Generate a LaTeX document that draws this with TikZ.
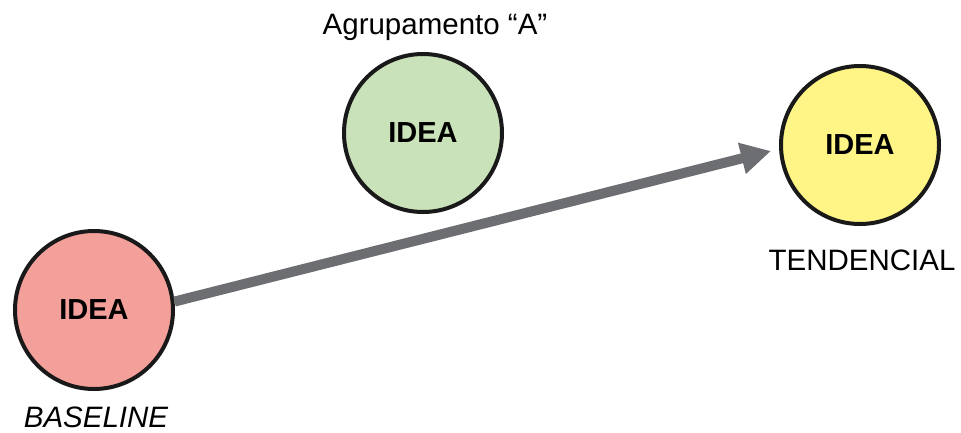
\documentclass[tikz,border=0pt]{standalone}
\usepackage{fontspec}
\setmainfont{Liberation Sans}
\usetikzlibrary{arrows.meta}
\definecolor{cred}{HTML}{F4A09A}
\definecolor{cgreen}{HTML}{C9E2B9}
\definecolor{cyellow}{HTML}{FFF587}
\definecolor{cgray}{HTML}{6D6E71}
\tikzset{
  idea/.style={circle, draw=black!90, line width=4pt, minimum size=158pt, inner sep=0pt,
    font=\fontsize{29}{32}\selectfont\bfseries},
  lbl/.style={font=\fontsize{29.5}{32}\selectfont, inner sep=0pt},
  trend/.style={draw=cgray, line width=10pt, -{Triangle[length=30pt,width=30pt]}}
}
\begin{document}
\begin{tikzpicture}[x=1pt,y=-1pt]
\useasboundingbox (0,0) rectangle (961,432);
\node[idea, fill=cred] (red) at (94,310) {IDEA};
\node[idea, fill=cgreen] (green) at (423,133) {IDEA};
\node[idea, fill=cyellow] (yellow) at (860,145) {IDEA};
\node[lbl, font=\fontsize{29.5}{32}\selectfont\itshape] (lb) at (96,417) {BASELINE};
\node[lbl] (lg) at (435,27) {Agrupamento “A”};
\node[lbl] (ly) at (862,260) {TENDENCIAL};
\coordinate (tip) at (771,151);
\draw[trend] (red.6) -- (tip);
\end{tikzpicture}
\end{document}
